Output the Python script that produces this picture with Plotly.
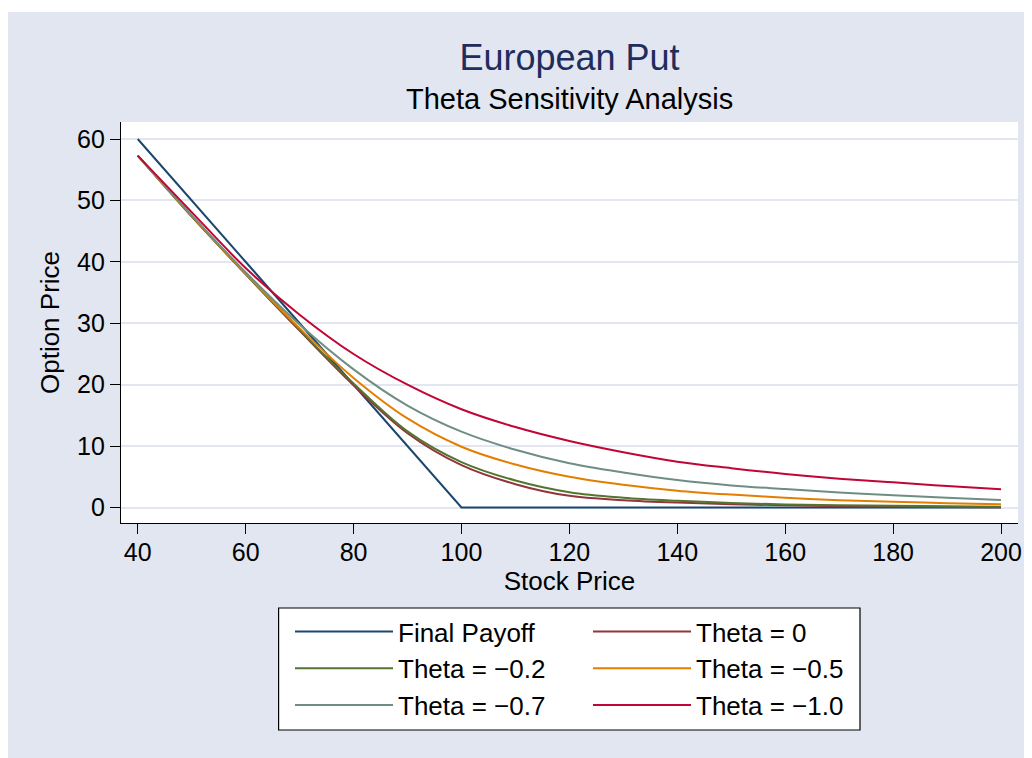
import plotly.graph_objects as go

# ---- data ----
stock = [40, 50, 60, 70, 80, 90, 100, 110, 120, 130, 140, 150, 160, 170, 180, 190, 200]

payoff_x = [40, 100, 200]
payoff_y = [60, 0, 0]

theta_0 = [57.3, 47.4, 38.0, 28.8, 19.9, 12.1, 6.9, 3.8, 1.9, 1.2, 0.8, 0.55, 0.35, 0.22, 0.15, 0.09, 0.05]
theta_m02 = [57.3, 47.4, 38.0, 28.9, 20.2, 12.4, 7.4, 4.4, 2.5, 1.6, 1.1, 0.75, 0.5, 0.38, 0.3, 0.2, 0.13]
theta_m05 = [57.3, 47.5, 38.1, 29.2, 21.1, 14.5, 9.9, 7.0, 5.0, 3.7, 2.74, 2.1, 1.6, 1.2, 0.95, 0.7, 0.52]
theta_m07 = [57.3, 47.6, 38.3, 29.8, 22.5, 16.6, 12.35, 9.4, 7.2, 5.7, 4.48, 3.6, 3.0, 2.45, 2.0, 1.6, 1.22]
theta_m10 = [57.3, 48.1, 39.0, 31.4, 25.0, 20.0, 16.0, 13.1, 10.83, 9.0, 7.46, 6.4, 5.46, 4.7, 4.1, 3.5, 2.96]

x_ticks = [40, 60, 80, 100, 120, 140, 160, 180, 200]
y_ticks = [0, 10, 20, 30, 40, 50, 60]

# ---- styles ----
FONT = "Liberation Sans, Arial, Helvetica, sans-serif"
BG = "#E1E6F0"
GRID = "#E1E6F0"
colors = {
    "Final Payoff": "#1A476F",
    "Theta = 0": "#90353B",
    "Theta = \u22120.2": "#55752F",
    "Theta = \u22120.5": "#E37E00",
    "Theta = \u22120.7": "#6E8E84",
    "Theta = \u22121.0": "#C10534",
}
# legend column of each series (left column / right column, as in the reference)
legend_of = {
    "Final Payoff": "legend",
    "Theta = 0": "legend2",
    "Theta = \u22120.2": "legend",
    "Theta = \u22120.5": "legend2",
    "Theta = \u22120.7": "legend",
    "Theta = \u22121.0": "legend2",
}

fig = go.Figure()
fig.add_trace(go.Scatter(x=payoff_x, y=payoff_y, mode="lines", name="Final Payoff",
                         legend=legend_of["Final Payoff"],
                         line=dict(color=colors["Final Payoff"], width=2)))
for name, ys in [("Theta = 0", theta_0), ("Theta = \u22120.2", theta_m02),
                 ("Theta = \u22120.5", theta_m05), ("Theta = \u22120.7", theta_m07),
                 ("Theta = \u22121.0", theta_m10)]:
    fig.add_trace(go.Scatter(x=stock, y=ys, mode="lines", name=name, legend=legend_of[name],
                             line=dict(color=colors[name], width=2, shape="spline", smoothing=1.0)))

# page has an 8px body margin; figure coords = page coords - 8
OFF = 8
W, H = 1024, 750
L, R, T, B = 113, 14, 114, 235
pw = W - L - R
ph = H - T - B

def px_x(p):  # page x -> paper
    return (p - OFF - L) / pw

def px_y(p):  # page y -> paper
    return (H - B - (p - OFF)) / ph

legend_common = dict(orientation="v", yanchor="top", xanchor="left",
                     bgcolor="rgba(0,0,0,0)", borderwidth=0,
                     font=dict(family=FONT, size=26, color="black"),
                     itemwidth=98, traceorder="normal")

fig.update_layout(
    width=W, height=H,
    margin=dict(l=L, r=R, t=T, b=B, autoexpand=False),
    paper_bgcolor=BG,
    plot_bgcolor="white",
    font=dict(family=FONT, size=25, color="black"),
    title=dict(text="European Put", x=0.5, xref="paper", xanchor="center",
               y=1 - (57 - OFF) / H, yref="container", yanchor="middle",
               font=dict(family=FONT, size=36, color="#1E2D5C")),
    showlegend=True,
    legend=dict(x=px_x(290), y=px_y(608), **legend_common),
    legend2=dict(x=px_x(588), y=px_y(608), **legend_common),
    xaxis=dict(range=[36.9, 203.15], tickvals=x_ticks, showgrid=False, zeroline=False,
               showline=True, linecolor="black", linewidth=1.3, mirror=False,
               ticks="outside", ticklen=10, tickwidth=1.3, tickcolor="black",
               tickfont=dict(size=25), ticklabelstandoff=-3,
               title=dict(text="Stock Price", font=dict(size=26), standoff=0)),
    yaxis=dict(range=[-2.52, 62.77], tickvals=y_ticks, showgrid=True, gridcolor=GRID,
               gridwidth=1.5, zeroline=False,
               showline=True, linecolor="black", linewidth=1.3, mirror=False,
               ticks="outside", ticklen=10, tickwidth=1.3, tickcolor="black",
               tickfont=dict(size=25),
               title=dict(text="Option Price", font=dict(size=26), standoff=9)),
    shapes=[
        # white strip along the top of the page
        dict(type="rect", xref="paper", yref="paper", x0=px_x(0), x1=px_x(1100),
             y0=px_y(12), y1=px_y(0), fillcolor="white", line=dict(width=0), layer="below"),
        # legend frame
        dict(type="rect", xref="paper", yref="paper", x0=px_x(278.6), x1=px_x(860),
             y0=px_y(730), y1=px_y(608), fillcolor="white",
             line=dict(color="black", width=1.2), layer="above"),
    ],
    annotations=[
        dict(text="Theta Sensitivity Analysis", x=0.5, xref="paper", xanchor="center",
             y=px_y(99), yref="paper", yanchor="middle", showarrow=False,
             font=dict(family=FONT, size=29, color="black")),
    ],
)

fig.write_html("out.html")
